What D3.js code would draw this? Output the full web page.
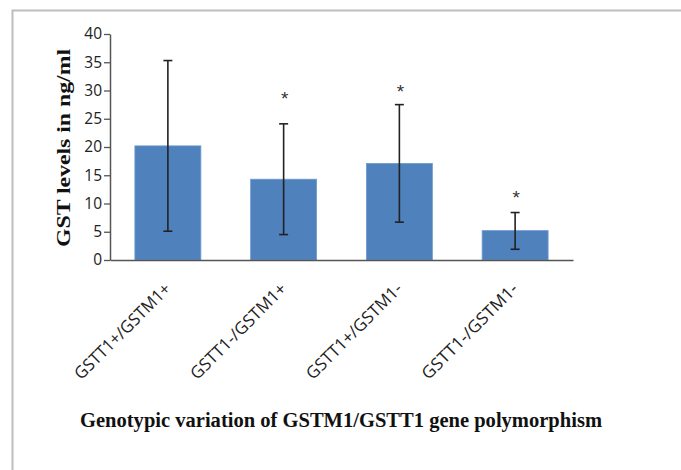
<!DOCTYPE html>
<html><head><meta charset="utf-8">
<script src="https://cdn.jsdelivr.net/npm/d3@7"></script>
<style>
html,body{margin:0;padding:0;background:#fff;}
svg{display:block;}
</style></head>
<body>
<svg id="chart" width="681" height="470"></svg>
<script>
const categories = ["GSTT1+/GSTM1+", "GSTT1-/GSTM1+", "GSTT1+/GSTM1-", "GSTT1-/GSTM1-"];
const means = [20.2, 14.3, 17.1, 5.2];
const errLow = [5.1, 4.5, 6.7, 1.9];
const errHigh = [35.3, 24.1, 27.5, 8.4];
const significant = [false, true, true, true];
const starLevel = [null, 29.2, 30.4, 11.6];
const yTicks = [0, 5, 10, 15, 20, 25, 30, 35, 40];

const svg = d3.select("#chart");

// outer frame
svg.append("path")
  .attr("d", "M12.5,470 L12.5,10.5 L681,10.5")
  .attr("fill", "none").attr("stroke", "#bdbdbd").attr("stroke-width", 2);

const x0 = 110, x1 = 573, yBase = 260, yTop = 34;
const x = d3.scaleBand().domain(categories).range([x0, x1]).paddingInner(0.43).paddingOuter(0.215);
const y = d3.scaleLinear().domain([0, 40]).range([yBase, yTop]);

// bars
svg.append("g").selectAll("rect").data(categories).join("rect")
  .attr("x", d => x(d)).attr("width", x.bandwidth())
  .attr("y", (d, i) => y(means[i])).attr("height", (d, i) => y(0) - y(means[i]))
  .attr("fill", "#4f81bd").attr("stroke", "#6f9ad0").attr("stroke-width", 0.8);

// y axis
const yAxis = svg.append("g").attr("transform", `translate(${x0},0)`)
  .call(d3.axisLeft(y).tickValues(yTicks).tickSize(6).tickPadding(2).tickSizeOuter(0));
yAxis.select(".domain").attr("stroke", "#555").attr("stroke-width", 1.5);
yAxis.selectAll(".tick line").attr("stroke", "#555").attr("stroke-width", 1.3);
yAxis.selectAll(".tick text").attr("font-family", "'Open Sans', sans-serif").attr("font-size", 15.5).attr("fill", "#222");

// x axis
const xAxis = svg.append("g").attr("transform", `translate(0,${yBase})`)
  .call(d3.axisBottom(x).tickSize(0).tickSizeOuter(0).tickFormat(""));
xAxis.select(".domain").attr("stroke", "#555").attr("stroke-width", 1.5);

// x labels
svg.append("g").selectAll("text").data(categories).join("text")
  .attr("transform", d => `translate(${x(d) + x.bandwidth()/2 + 4},${yBase + 30}) rotate(-45)`)
  .attr("text-anchor", "end")
  .attr("font-family", "'Open Sans', sans-serif").attr("font-size", 17).attr("fill", "#222")
  .attr("textLength", 128).attr("lengthAdjust", "spacingAndGlyphs")
  .text(d => d);

// error bars
const eb = svg.append("g").attr("stroke", "#222").attr("stroke-width", 1.6);
categories.forEach((c, i) => {
  const cx = x(c) + x.bandwidth()/2;
  eb.append("line").attr("x1", cx).attr("x2", cx).attr("y1", y(errLow[i])).attr("y2", y(errHigh[i]));
  [errLow[i], errHigh[i]].forEach(v => {
    eb.append("line").attr("x1", cx - 4.5).attr("x2", cx + 4.5).attr("y1", y(v)).attr("y2", y(v));
  });
});

// significance stars
svg.append("g").selectAll("text").data(categories.filter((c, i) => significant[i])).join("text")
  .attr("x", d => x(d) + x.bandwidth()/2 + 1)
  .attr("y", d => y(starLevel[categories.indexOf(d)]) + 10)
  .attr("text-anchor", "middle")
  .attr("font-family", "'Liberation Sans', sans-serif").attr("font-size", 19).attr("fill", "#333")
  .text("*");

// axis titles
svg.append("text")
  .attr("transform", `translate(70,148) rotate(-90)`)
  .attr("text-anchor", "middle")
  .attr("font-family", "'Liberation Serif', 'Times New Roman', serif").attr("font-weight", "bold")
  .attr("font-size", 19.5).attr("fill", "#111")
  .attr("textLength", 198).attr("lengthAdjust", "spacingAndGlyphs")
  .text("GST levels in ng/ml");

svg.append("text")
  .attr("x", 341).attr("y", 427)
  .attr("text-anchor", "middle")
  .attr("font-family", "'Liberation Serif', 'Times New Roman', serif").attr("font-weight", "bold")
  .attr("font-size", 20).attr("fill", "#111")
  .attr("textLength", 522).attr("lengthAdjust", "spacingAndGlyphs")
  .text("Genotypic variation of GSTM1/GSTT1 gene polymorphism");
</script>
</body></html>
